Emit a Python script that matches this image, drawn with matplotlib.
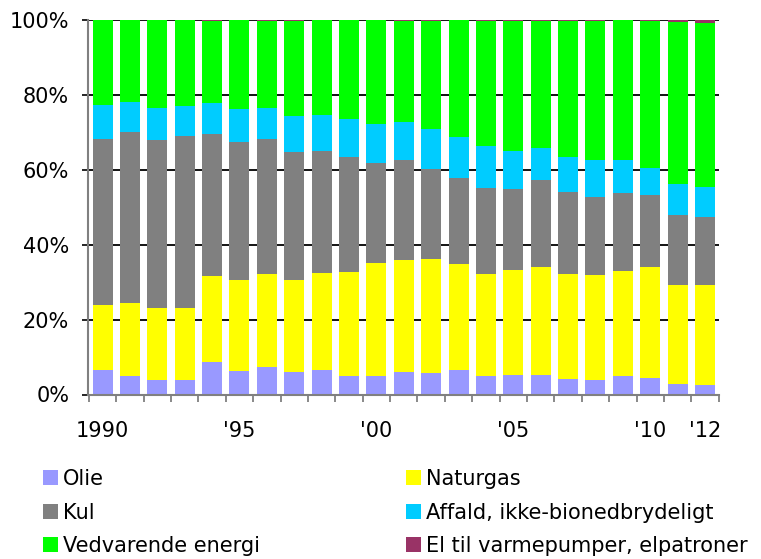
import numpy as np
import matplotlib
matplotlib.use('Agg')
import matplotlib.pyplot as plt
from matplotlib.patches import Patch

# shares in percent, 1990-2012
years = list(range(1990, 2013))
tick_labels = {1990: '1990', 1995: "'95", 2000: "'00", 2005: "'05", 2010: "'10", 2012: "'12"}

olie = [6.5, 4.9, 3.9, 3.9, 8.7, 6.3, 7.3, 6.0, 6.5, 4.9, 4.9, 6.0,
        5.7, 6.5, 4.9, 5.2, 5.2, 4.1, 3.9, 4.9, 4.4, 2.8, 2.5]
naturgas = [17.4, 19.5, 19.2, 19.2, 22.9, 24.3, 24.9, 24.6, 25.9, 27.8, 30.2, 29.9,
            30.5, 28.3, 27.3, 28.0, 28.8, 28.1, 28.0, 28.1, 29.6, 26.4, 26.7]
kul = [44.3, 45.7, 44.9, 46.0, 38.0, 36.9, 36.0, 34.2, 32.6, 30.7, 26.7, 26.7,
       23.9, 23.0, 22.9, 21.7, 23.3, 21.9, 20.8, 20.8, 19.3, 18.7, 18.2]
affald = [9.1, 8.1, 8.6, 8.0, 8.2, 8.7, 8.4, 9.6, 9.6, 10.2, 10.5, 10.2,
          10.8, 11.0, 11.3, 10.1, 8.6, 9.3, 10.0, 8.9, 7.3, 8.4, 8.0]
vedvarende = [22.7, 21.8, 23.4, 22.9, 21.9, 23.8, 23.1, 25.3, 25.4, 26.4, 27.7, 26.9,
              28.8, 31.2, 33.3, 34.7, 33.8, 36.3, 37.0, 37.3, 39.1, 43.2, 43.8]
el = [0, 0, 0, 0, 0.3, 0, 0.3, 0.3, 0, 0, 0, 0.3,
      0.3, 0, 0.3, 0.3, 0.3, 0.3, 0.3, 0, 0.3, 0.5, 0.8]

series = [('Olie', olie, '#9999FF'),
          ('Naturgas', naturgas, '#FFFF00'),
          ('Kul', kul, '#808080'),
          ('Affald, ikke-bionedbrydeligt', affald, '#00CCFF'),
          ('Vedvarende energi', vedvarende, '#00FF00'),
          ('El til varmepumper, elpatroner', el, '#993366')]

plt.rcParams['xtick.major.pad'] = 19
plt.rcParams['xtick.major.size'] = 0
plt.rcParams['font.size'] = 15

W, H = 761, 559
fig = plt.figure(figsize=(W / 100, H / 100), dpi=100)
ax = fig.add_axes([88 / W, 1 - 394.5 / H, (719 - 88) / W, (394.5 - 20) / H])

x = np.arange(len(years))
bottom = np.zeros(len(years))
handles = {}
for name, vals, col in series:
    vals = np.array(vals)
    ax.bar(x, vals, 0.73, bottom=bottom, color=col, zorder=2)
    bottom += vals
    handles[name] = Patch(facecolor=col)

ax.set_xlim(-0.53, len(years) - 0.49)
ax.set_ylim(0, 100)
ax.set_yticks(range(0, 101, 20))
ax.set_yticklabels([f'{v}%' for v in range(0, 101, 20)])
ax.yaxis.grid(True, color='black', lw=1.3, zorder=0)
ax.set_axisbelow(True)

# year labels on the bars, tick marks between bars
ax.set_xticks([years.index(y) for y in tick_labels])
ax.set_xticklabels(list(tick_labels.values()))
ax.set_xticks(np.arange(-0.5, len(years)), minor=True)
ax.tick_params(axis='x', which='minor', length=5, width=1.3, color='#808080', direction='out')
ax.tick_params(axis='y', length=4.5, width=1.2, color='black', pad=9)

for s in ['top', 'right']:
    ax.spines[s].set_visible(False)
for s in ['left', 'bottom']:
    ax.spines[s].set_color('#808080')
    ax.spines[s].set_linewidth(1.5)

# legend in two fixed columns
legend_kw = dict(loc='upper left', frameon=False, fontsize=15, borderpad=0,
                 handlelength=0.72, handleheight=0.7, handletextpad=0.25,
                 labelspacing=0.65, borderaxespad=0)
col1 = ['Olie', 'Kul', 'Vedvarende energi']
col2 = ['Naturgas', 'Affald, ikke-bionedbrydeligt', 'El til varmepumper, elpatroner']
fig.legend([handles[n] for n in col1], col1, bbox_to_anchor=(43 / W, 1 - 469 / H), **legend_kw)
fig.legend([handles[n] for n in col2], col2, bbox_to_anchor=(406 / W, 1 - 469 / H), **legend_kw)

fig.savefig('out.png', dpi=100)
